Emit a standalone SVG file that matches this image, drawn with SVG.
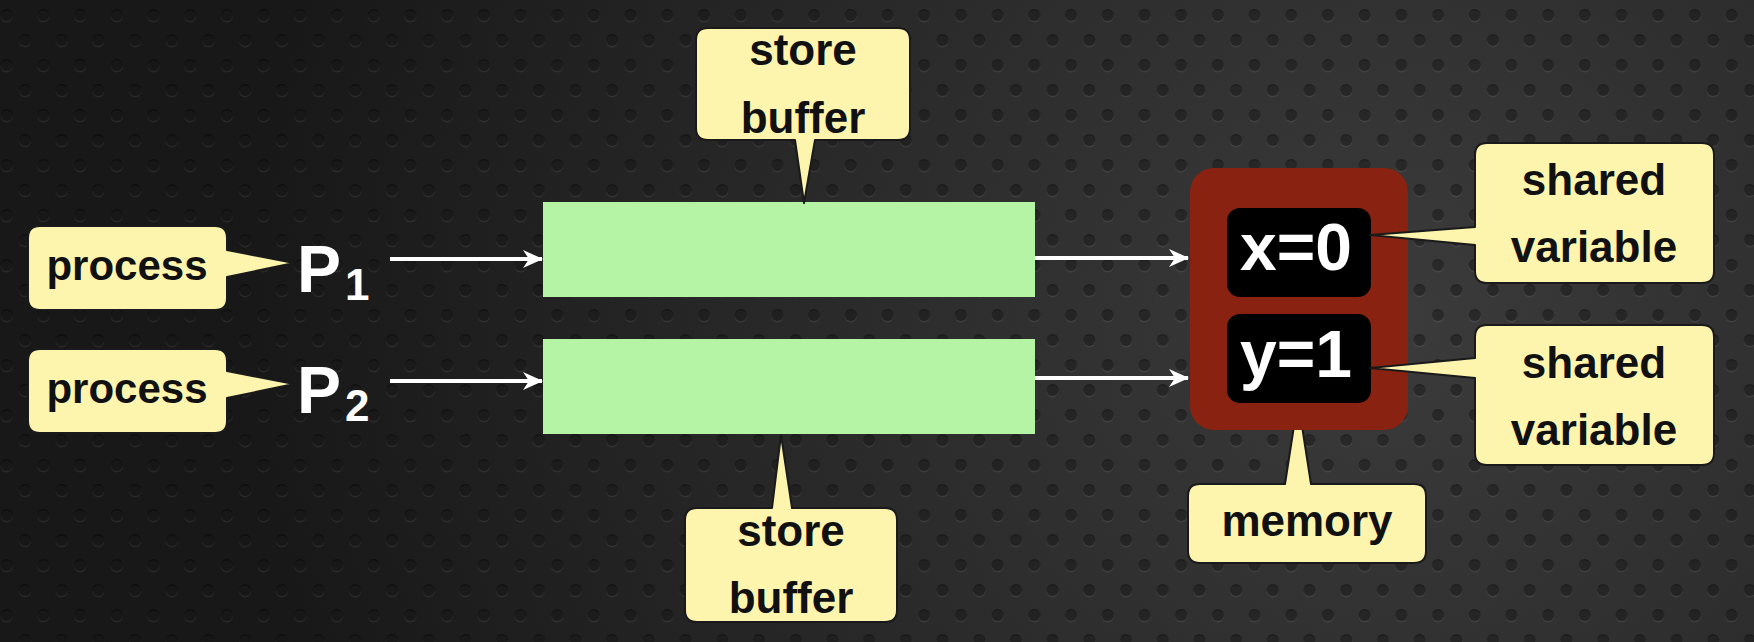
<svg xmlns="http://www.w3.org/2000/svg" width="1754" height="642" viewBox="0 0 1754 642">
<defs>
<radialGradient id="bg" cx="1400" cy="320" r="1150" gradientUnits="userSpaceOnUse">
<stop offset="0" stop-color="#3b3b3b"/>
<stop offset="0.5" stop-color="#2a2a2a"/>
<stop offset="1" stop-color="#181818"/>
</radialGradient>
<pattern id="dots" width="36.7" height="50" patternUnits="userSpaceOnUse">
<circle cx="6.7" cy="16.5" r="6" fill="#ffffff" fill-opacity="0.07"/>
<circle cx="6.7" cy="15" r="6" fill="#000000" fill-opacity="0.42"/>
<circle cx="25" cy="41.5" r="6" fill="#ffffff" fill-opacity="0.07"/>
<circle cx="25" cy="40" r="6" fill="#000000" fill-opacity="0.42"/>
</pattern>
<marker id="arr" viewBox="0 0 20 18" refX="19" refY="9" markerWidth="20" markerHeight="18" markerUnits="userSpaceOnUse" orient="auto">
<path d="M0,0 L20,9 L0,18 L6,9 Z" fill="#ffffff"/>
</marker>
<style>
.callout{fill:#fdf5ae;stroke:#1a1a1a;stroke-width:2;stroke-linejoin:round}
.lbl{font-family:"Liberation Sans","DejaVu Sans",sans-serif;font-weight:bold;font-size:44px;fill:#111;text-anchor:middle}
.proc{font-size:42px}
.pname{font-family:"Liberation Sans","DejaVu Sans",sans-serif;font-weight:bold;fill:#ffffff}
.var{font-family:"Liberation Sans","DejaVu Sans",sans-serif;font-weight:bold;font-size:66px;fill:#ffffff;text-anchor:middle}
.buf{fill:#b5f4a5}
.conn{stroke:#ffffff;stroke-width:4;fill:none}
</style>
</defs>
<rect width="1754" height="642" fill="url(#bg)"/>
<rect width="1754" height="642" fill="url(#dots)"/>

<g id="connectors">
<line class="conn" x1="390" y1="259" x2="542" y2="259" marker-end="url(#arr)"/>
<line class="conn" x1="390" y1="381" x2="542" y2="381" marker-end="url(#arr)"/>
<line class="conn" x1="1035" y1="258" x2="1188" y2="258" marker-end="url(#arr)"/>
<line class="conn" x1="1035" y1="378" x2="1188" y2="378" marker-end="url(#arr)"/>
</g>

<g id="buffer1"><rect class="buf" x="543" y="202" width="492" height="95"/></g>
<g id="buffer2"><rect class="buf" x="543" y="339" width="492" height="95"/></g>

<g id="p1">
<text class="pname" x="297" y="292" font-size="66">P</text>
<text class="pname" x="345" y="300" font-size="44">1</text>
</g>
<g id="p2">
<text class="pname" x="297" y="413" font-size="66">P</text>
<text class="pname" x="345" y="421" font-size="44">2</text>
</g>

<g id="process1">
<path class="callout" d="M40,226 H215 Q227,226 227,238 V250 L294,263 L227,277 V298 Q227,310 215,310 H40 Q28,310 28,298 V238 Q28,226 40,226 Z"/>
<text class="lbl proc" x="127" y="280">process</text>
</g>
<g id="process2">
<path class="callout" d="M40,349 H215 Q227,349 227,361 V371 L294,384 L227,398 V421 Q227,433 215,433 H40 Q28,433 28,421 V361 Q28,349 40,349 Z"/>
<text class="lbl proc" x="127" y="403">process</text>
</g>

<g id="storebuffer1">
<path class="callout" d="M708,28 H898 Q910,28 910,40 V128 Q910,140 898,140 H815 L804,203 L795,140 H708 Q696,140 696,128 V40 Q696,28 708,28 Z"/>
<text class="lbl" x="803" y="65">store</text>
<text class="lbl" x="803" y="133">buffer</text>
</g>
<g id="storebuffer2">
<path class="callout" d="M697,508 H772 L781,435 L792,508 H885 Q897,508 897,520 V610 Q897,622 885,622 H697 Q685,622 685,610 V520 Q685,508 697,508 Z"/>
<text class="lbl" x="791" y="546">store</text>
<text class="lbl" x="791" y="613">buffer</text>
</g>

<g id="memorylabel">
<path class="callout" d="M1200,484 H1285 L1294,426 L1302,426 L1311,484 H1414 Q1426,484 1426,496 V551 Q1426,563 1414,563 H1200 Q1188,563 1188,551 V496 Q1188,484 1200,484 Z"/>
<text class="lbl" x="1307" y="536">memory</text>
</g>

<g id="memory">
<rect x="1190" y="168" width="218" height="262" rx="24" fill="#8a2211"/>
</g>
<g id="varx">
<rect x="1227" y="208" width="144" height="89" rx="13" fill="#000"/>
<text class="var" x="1296" y="270">x=0</text>
</g>
<g id="vary">
<rect x="1227" y="314" width="144" height="89" rx="13" fill="#000"/>
<text class="var" x="1296" y="377">y=1</text>
</g>

<g id="shared1">
<path class="callout" d="M1487,143 H1702 Q1714,143 1714,155 V271 Q1714,283 1702,283 H1487 Q1475,283 1475,271 V245 L1370,235 L1475,227 V155 Q1475,143 1487,143 Z"/>
<text class="lbl" x="1594" y="195">shared</text>
<text class="lbl" x="1594" y="262">variable</text>
</g>
<g id="shared2">
<path class="callout" d="M1487,325 H1702 Q1714,325 1714,337 V453 Q1714,465 1702,465 H1487 Q1475,465 1475,453 V378 L1370,368 L1475,358 V337 Q1475,325 1487,325 Z"/>
<text class="lbl" x="1594" y="378">shared</text>
<text class="lbl" x="1594" y="445">variable</text>
</g>
</svg>
